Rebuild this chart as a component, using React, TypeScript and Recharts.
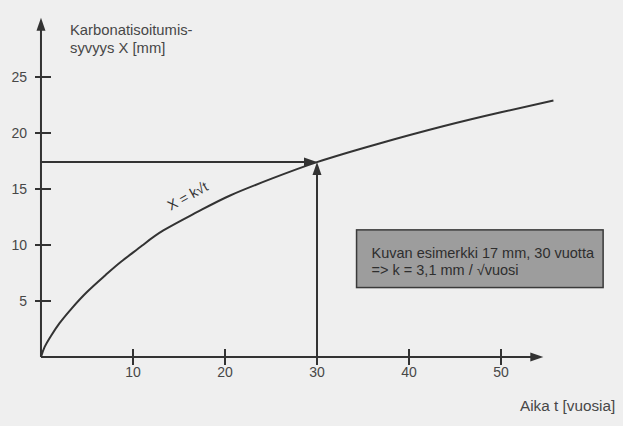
import React from 'react';
import {
  LineChart,
  Line,
  XAxis,
  YAxis,
  ReferenceLine,
  ReferenceArea,
  ReferenceDot,
  Customized,
} from 'recharts';

// Values
const timeYears = [0, 0.4, 1.1, 2, 3.3, 5, 7, 8.7, 11, 13.3, 17, 20.5, 25, 30, 36.5, 43.7, 50, 55.7];
const depthMm = [0, 0.9, 1.9, 3.0, 4.3, 5.8, 7.3, 8.5, 9.95, 11.3, 12.95, 14.4, 15.9, 17.4, 19.0, 20.6, 21.85, 22.9];
const xTicks = [10, 20, 30, 40, 50];
const yTicks = [5, 10, 15, 20, 25];
const exampleT = 30;
const exampleX = 17.4;
const xAxisEnd = 54.6;
const yAxisEnd = 30.3;
const boxT = [34.3, 61.1];
const boxX = [6.2, 11.35];

const yTitle = ['Karbonatisoitumis-', 'syvyys X [mm]'];
const xTitle = 'Aika t [vuosia]';
const curveLabel = 'X = k√t';
const boxLines = ['Kuvan esimerkki 17 mm, 30 vuotta', '=> k = 3,1 mm / √vuosi'];

const data = timeYears.map((t, i) => ({ t, x: depthMm[i] }));

const INK = '#333333';
const TEXT = '#474747';
const FONT = '"Liberation Sans", Arial, sans-serif';

const XTick = (props: any) => {
  const { x, y, payload } = props;
  return (
    <text x={x} y={y + 12} textAnchor="middle" fontSize={14} fill={TEXT} fontFamily={FONT}>
      {payload.value}
    </text>
  );
};

const YTick = (props: any) => {
  const { x, y, payload } = props;
  return (
    <text x={x - 8} y={y + 5} textAnchor="end" fontSize={14} fill={TEXT} fontFamily={FONT}>
      {payload.value}
    </text>
  );
};

// Arrow line; optional tick marks placed along it by value (ticks / end value of the segment)
const arrowLine = (dir: 'right' | 'up', ticks: number[] = [], endValue = 1) => (p: any) => {
  const { x1, y1, x2, y2 } = p;
  const L = 13;
  const W = 4.5;
  const pts =
    dir === 'right'
      ? `${x2},${y2} ${x2 - L},${y2 - W} ${x2 - L},${y2 + W}`
      : `${x2},${y2} ${x2 - W},${y2 + L} ${x2 + W},${y2 + L}`;
  return (
    <g>
      <line
        x1={x1}
        y1={y1}
        x2={dir === 'right' ? x2 - 6 : x2}
        y2={dir === 'up' ? y2 + 6 : y2}
        stroke={INK}
        strokeWidth={2}
      />
      <polygon points={pts} fill={INK} />
      {ticks.map((v) => {
        if (dir === 'right') {
          const px = x1 + ((x2 - x1) * v) / endValue;
          return <line key={v} x1={px} y1={y1 - 8} x2={px} y2={y1 + 8} stroke={INK} strokeWidth={2} />;
        }
        const py = y1 + ((y2 - y1) * v) / endValue;
        return <line key={v} x1={x1 - 6} y1={py} x2={x1 + 10} y2={py} stroke={INK} strokeWidth={2} />;
      })}
    </g>
  );
};

const BoxShape = (p: any) => {
  const { x, y, width, height } = p;
  return (
    <g>
      <rect x={x} y={y} width={width} height={height} fill="#9d9d9d" stroke="#3a3a3a" strokeWidth={1.5} />
      {boxLines.map((s, i) => (
        <text key={i} x={x + 15} y={y + 28 + i * 17} fontSize={14.5} fill="#2e2e2e" fontFamily={FONT}>
          {s}
        </text>
      ))}
    </g>
  );
};

const CurveLabel = (p: any) => {
  const { cx, cy } = p;
  return (
    <text
      x={cx}
      y={cy}
      textAnchor="middle"
      fontSize={14}
      fill={INK}
      fontFamily={FONT}
      transform={`rotate(-29, ${cx}, ${cy})`}
    >
      {curveLabel}
    </text>
  );
};

const Titles = () => (
  <g fontFamily={FONT} fill={TEXT}>
    <text x={70} y={35} fontSize={14.8}>{yTitle[0]}</text>
    <text x={70} y={53} fontSize={14.8}>{yTitle[1]}</text>
    <text x={520} y={411} fontSize={15.3}>{xTitle}</text>
  </g>
);

export default function App() {
  return (
    <div style={{ position: 'absolute', left: 0, top: 0, width: 623, height: 426, background: '#efefef' }}>
      <LineChart
        width={623}
        height={426}
        data={data}
        margin={{ top: 9.8, right: 66.8, bottom: 0, left: 0 }}
      >
        <XAxis
          type="number"
          dataKey="t"
          domain={[-0.65, 56]}
          ticks={xTicks}
          axisLine={false}
          tickLine={false}
          tickSize={0}
          tickMargin={0}
          height={60.6}
          tick={<XTick />}
          interval={0}
          allowDataOverflow
        />
        <YAxis
          type="number"
          domain={[-0.75, 31]}
          ticks={yTicks}
          axisLine={false}
          tickLine={false}
          tickSize={0}
          tickMargin={0}
          width={35}
          tick={<YTick />}
          interval={0}
          allowDataOverflow
        />
        <ReferenceLine
          segment={[{ x: 0, y: 0 }, { x: xAxisEnd, y: 0 }]}
          ifOverflow="visible"
          shape={arrowLine('right', xTicks, xAxisEnd)}
        />
        <ReferenceLine
          segment={[{ x: 0, y: 0 }, { x: 0, y: yAxisEnd }]}
          ifOverflow="visible"
          shape={arrowLine('up', yTicks, yAxisEnd)}
        />
        <ReferenceLine
          segment={[{ x: 0, y: exampleX }, { x: exampleT, y: exampleX }]}
          ifOverflow="visible"
          shape={arrowLine('right')}
        />
        <ReferenceLine
          segment={[{ x: exampleT, y: 0 }, { x: exampleT, y: exampleX }]}
          ifOverflow="visible"
          shape={arrowLine('up')}
        />
        <Line
          type="natural"
          dataKey="x"
          stroke={INK}
          strokeWidth={2}
          dot={false}
          isAnimationActive={false}
        />
        <ReferenceArea
          x1={boxT[0]}
          x2={boxT[1]}
          y1={boxX[0]}
          y2={boxX[1]}
          ifOverflow="visible"
          shape={<BoxShape />}
        />
        <ReferenceDot x={16.2} y={14.0} ifOverflow="visible" shape={<CurveLabel />} />
        <Customized component={Titles} />
      </LineChart>
    </div>
  );
}
